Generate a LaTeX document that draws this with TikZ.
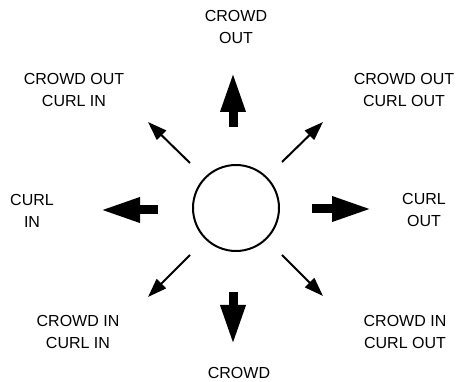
\documentclass[tikz,border=0pt]{standalone}
\usepackage{fontspec}
\setmainfont{Liberation Sans}
\usetikzlibrary{arrows.meta}
\begin{document}
\begin{tikzpicture}[x=1pt,y=-1pt,
  lbl/.style={align=center,inner sep=0pt,font=\fontsize{16}{22}\selectfont},
  thick arrow/.style={line width=9pt,-{Triangle[length=40pt,width=23pt]}},
  thin arrow/.style={line width=2pt,-{Triangle[length=19pt,width=13pt]}}]
\useasboundingbox (0,0) rectangle (459,382);
\node[circle,draw,line width=2pt,minimum size=86pt,inner sep=0pt] (c) at (236,208) {};
% labels
\node[lbl] (n)  at (236,27)  {CROWD\\OUT};
\node[lbl] (nw) at (74,90)   {CROWD OUT\\CURL IN};
\node[lbl] (ne) at (404,90)  {CROWD OUT\\CURL OUT};
\node[lbl] (w)  at (32,211)  {CURL\\IN};
\node[lbl] (e)  at (424,210) {CURL\\OUT};
\node[lbl] (sw) at (78,332)  {CROWD IN\\CURL IN};
\node[lbl] (se) at (405,332) {CROWD IN\\CURL OUT};
\node[lbl] (s)  at (239,373) {CROWD};
% arrow ends
\coordinate (n0) at (233,127); \coordinate (n1) at (233,72);
\coordinate (s0) at (233,292); \coordinate (s1) at (233,345);
\coordinate (w0) at (158,210); \coordinate (w1) at (100,210);
\coordinate (e0) at (312,209); \coordinate (e1) at (372,209);
\coordinate (nw0) at (190,163); \coordinate (nw1) at (148,122);
\coordinate (ne0) at (282,162); \coordinate (ne1) at (323,122);
\coordinate (sw0) at (190,255); \coordinate (sw1) at (148,297);
\coordinate (se0) at (282,255); \coordinate (se1) at (323,296);
\draw[thick arrow] (n0) -- (n1);
\draw[thick arrow] (s0) -- (s1);
\draw[thick arrow] (w0) -- (w1);
\draw[thick arrow] (e0) -- (e1);
\draw[thin arrow] (nw0) -- (nw1);
\draw[thin arrow] (ne0) -- (ne1);
\draw[thin arrow] (sw0) -- (sw1);
\draw[thin arrow] (se0) -- (se1);
\end{tikzpicture}
\end{document}
